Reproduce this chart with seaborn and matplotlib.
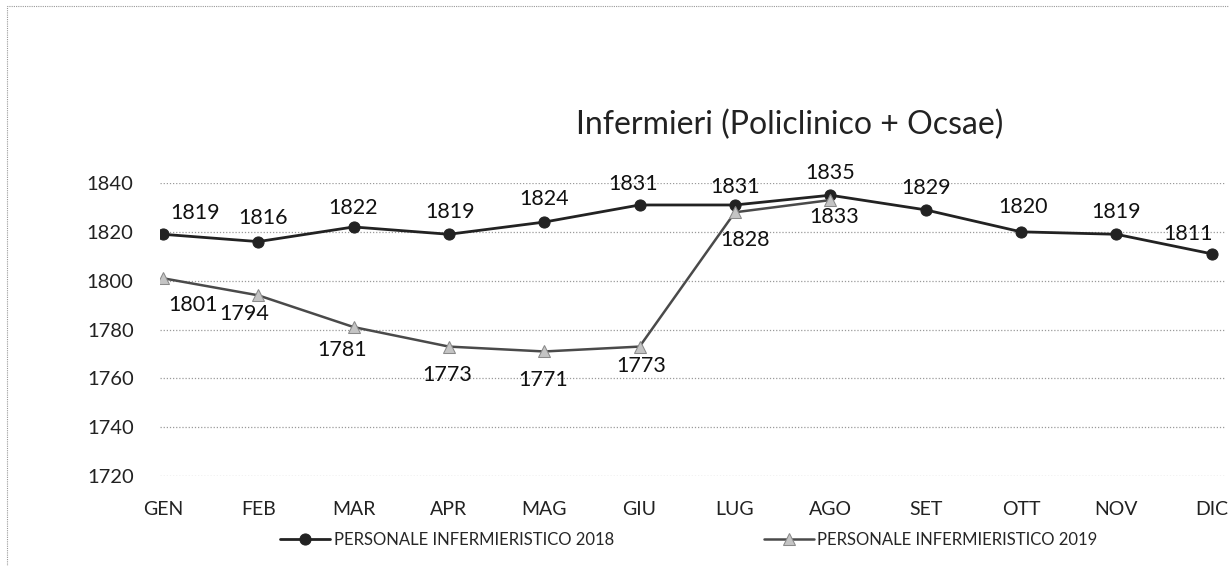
import pandas as pd
import seaborn as sns
import matplotlib.pyplot as plt
from matplotlib.patches import Rectangle

# Dati
mesi = ["GEN", "FEB", "MAR", "APR", "MAG", "GIU", "LUG", "AGO", "SET", "OTT", "NOV", "DIC"]
val_2018 = [1819, 1816, 1822, 1819, 1824, 1831, 1831, 1835, 1829, 1820, 1819, 1811]
val_2019 = [1801, 1794, 1781, 1773, 1771, 1773, 1828, 1833]
nome_2018 = "PERSONALE INFERMIERISTICO 2018"
nome_2019 = "PERSONALE INFERMIERISTICO 2019"
yticks = [1720, 1740, 1760, 1780, 1800, 1820, 1840]

# spostamento delle etichette (pixel) rispetto ai punti
off_2018 = [(32, 21), (5, 24), (-1, 19), (1, 22), (0, 23), (-6, 21),
            (0, 18), (0, 22), (0, 22), (2, 25), (0, 22), (-24, 20)]
off_2019 = [(30, -27), (-14, -19), (-11, -23), (-2, -28), (-1, -29), (2, -19),
            (10, -28), (4, -17)]

sns.set_theme(style="white")
plt.rcParams['font.family'] = ['Lato', 'DejaVu Sans']

df18 = pd.DataFrame({"mese": mesi, "valore": val_2018})
df19 = pd.DataFrame({"mese": mesi[:len(val_2019)], "valore": val_2019})

fig = plt.figure(figsize=(12.29, 5.66), dpi=100)
ax = fig.add_axes([160 / 1229, 1 - 476 / 566, (1225 - 160) / 1229, (476 - 183) / 566])

sns.lineplot(data=df18, x="mese", y="valore", ax=ax, color="#222222", linewidth=2,
             marker="o", markersize=8, markeredgecolor="#222222", label=nome_2018, sort=False)
sns.lineplot(data=df19, x="mese", y="valore", ax=ax, color="#4a4a4a", linewidth=1.8,
             marker="^", markersize=9, markerfacecolor="#c4c4c4", markeredgecolor="#8a8a8a",
             label=nome_2019, sort=False)

for i, v in enumerate(val_2018):
    ax.annotate(str(v), (i, v), xytext=off_2018[i], textcoords="offset pixels",
                ha="center", va="center", fontsize=15.5, color="#111111")
for i, v in enumerate(val_2019):
    ax.annotate(str(v), (i, v), xytext=off_2019[i], textcoords="offset pixels",
                ha="center", va="center", fontsize=15.5, color="#111111")

ax.set_xlim(-0.03, 11.14)
ax.set_ylim(1720, 1840)
ax.set_yticks(yticks)
ax.set_xlabel("")
ax.set_ylabel("")
ax.grid(axis="y", linestyle=(0, (1, 1.5)), color="#9a9a9a", linewidth=0.9)
for s in ax.spines.values():
    s.set_visible(False)
ax.tick_params(axis="y", labelsize=14.5, pad=13, colors="#222222")
ax.tick_params(axis="x", labelsize=14, pad=12, colors="#222222")
ax.get_legend().remove()

fig.text(790 / 1229, 1 - 125 / 566, "Infermieri (Policlinico + Ocsae)",
         ha="center", va="center", fontsize=23, color="#222222")

h, l = ax.get_legend_handles_labels()
fig.legend(h, l, loc="center", bbox_to_anchor=(689 / 1229, 1 - 540 / 566), ncol=2,
           frameon=False, fontsize=12, columnspacing=9, handlelength=3, handletextpad=0.2)

# cornice tratteggiata
fig.patches.append(Rectangle((0.006, -0.05), 1.1, 1.04, transform=fig.transFigure,
                             fill=False, linestyle=(0, (1, 1)), edgecolor="#999999", linewidth=0.8))

fig.savefig("out.png", dpi=100)
